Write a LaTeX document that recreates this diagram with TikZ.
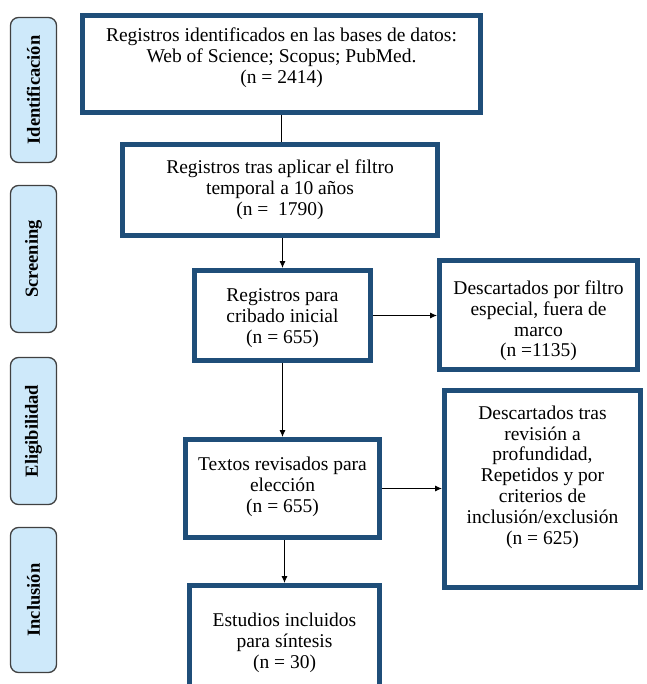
\documentclass[tikz,border=0pt]{standalone}
\usepackage{fontspec}
\setmainfont{Liberation Serif}
\usetikzlibrary{arrows.meta}
\definecolor{boxblue}{RGB}{31,78,121}
\definecolor{sidefill}{RGB}{206,233,250}
\definecolor{sidedraw}{RGB}{64,64,64}
\tikzset{
  mainbox/.style={draw=boxblue, line width=5pt, fill=white, inner sep=0pt},
  boxtext/.style={align=center, inner sep=0pt, font=\fontsize{19.5}{20.8}\selectfont},
  sidebox/.style={draw=sidedraw, line width=1.3pt, fill=sidefill, rounded corners=8pt,
    rotate=90, minimum height=46pt, inner sep=0pt, font=\bfseries\fontsize{18.5}{20}\selectfont},
  conn/.style={draw=black, line width=0.9pt},
  arr/.style={conn, -{Latex[length=7pt,width=6pt]}}
}
\begin{document}
\begin{tikzpicture}[x=1pt,y=-1pt]
\useasboundingbox (0,0) rectangle (646,684);
\clip (0,0) rectangle (646,684);
% side labels
\node[sidebox, minimum width=145pt] (s1) at (33.5,90) {Identificación};
\node[sidebox, minimum width=147pt] (s2) at (33.5,259) {Screening};
\node[sidebox, minimum width=147pt] (s3) at (33.5,431) {Eligibilidad};
\node[sidebox, minimum width=145pt] (s4) at (33.5,600) {Inclusión};
% boxes
\node[mainbox, minimum width=398pt, minimum height=97pt] (b1) at (281.5,64) {};
\node[mainbox, minimum width=315pt, minimum height=91pt] (b2) at (280,190) {};
\node[mainbox, minimum width=176pt, minimum height=90pt] (b3) at (282.5,315.5) {};
\node[mainbox, minimum width=198pt, minimum height=109pt] (b4) at (538.5,315) {};
\node[mainbox, minimum width=196pt, minimum height=197pt] (b5) at (542.5,489) {};
\node[mainbox, minimum width=194pt, minimum height=98pt] (b6) at (282.5,488.5) {};
\node[mainbox, minimum width=190pt, minimum height=112pt] (b7) at (284.5,641.5) {};
% texts
\node[boxtext] (t1) at (281.5,58) {Registros identificados en las bases de datos:\\Web of Science; Scopus; PubMed.\\(n = 2414)};
\node[boxtext] (t2) at (280,190) {Registros tras aplicar el filtro\\temporal a 10 años\\(n =\ \ 1790)};
\node[boxtext] (t3) at (282.5,318) {Registros para\\cribado inicial\\(n = 655)};
\node[boxtext] (t4) at (538.5,321) {Descartados por filtro\\especial, fuera de\\marco\\(n =1135)};
\node[boxtext] (t5) at (542.5,477) {Descartados tras\\revisión a\\profundidad,\\Repetidos y por\\criterios de\\inclusión/exclusión\\(n = 625)};
\node[boxtext] (t6) at (282.5,487) {Textos revisados para\\elección\\(n = 655)};
\node[boxtext] (t7) at (284.5,643) {Estudios incluidos\\para síntesis\\(n = 30)};
% connectors
\draw[conn] (b1.south) -- (b1.south |- b2.north);
\draw[arr] (b2.south -| b3.north) -- (b3.north);
\draw[arr] (b3.east) -- (b3.east -| b4.west);
\draw[arr] (b3.south) -- (b3.south |- b6.north);
\draw[arr] (b6.east) -- (b6.east -| b5.west);
\draw[arr] (b6.south -| b7.north) -- (b7.north);
\end{tikzpicture}
\end{document}
